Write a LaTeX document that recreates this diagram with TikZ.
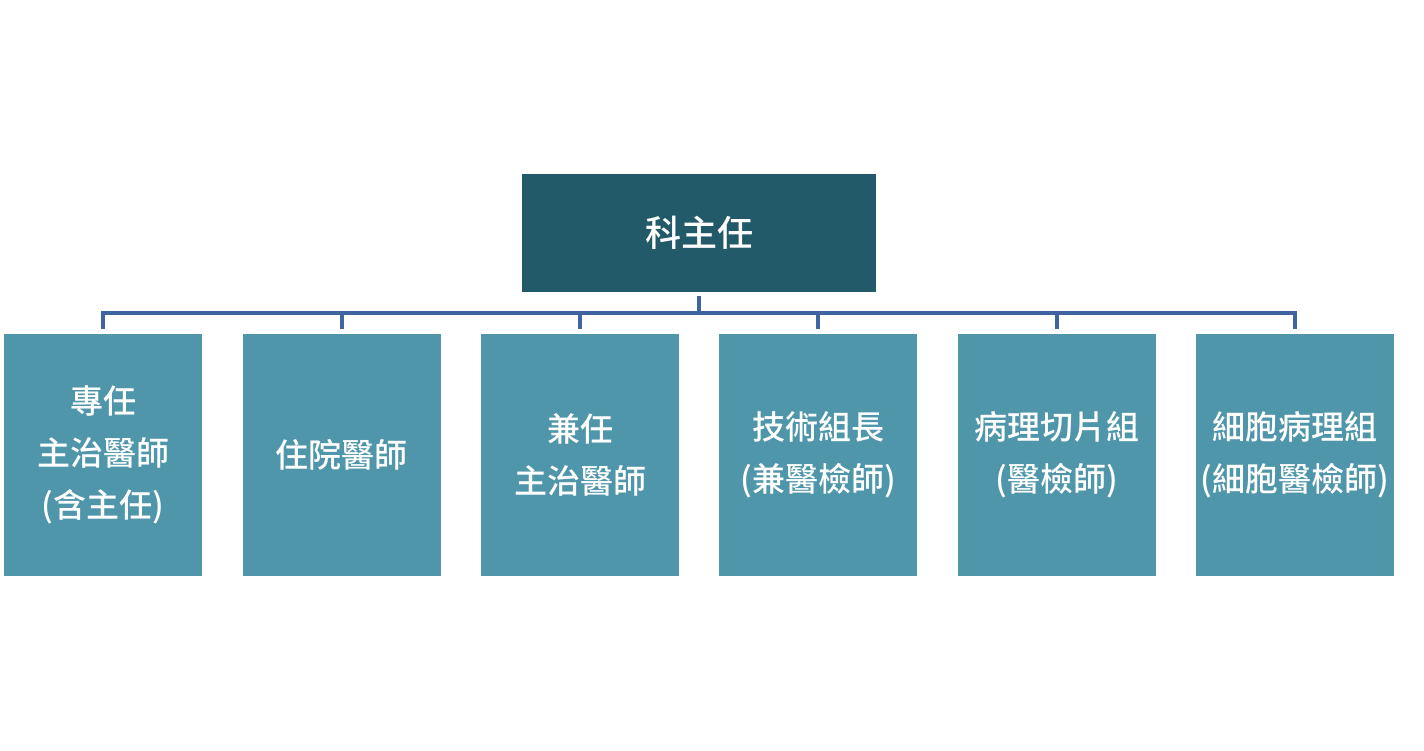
\documentclass[tikz,border=0pt]{standalone}
\usepackage{fontspec}
\newfontfamily\cjk{Noto Sans CJK TC Medium}
\definecolor{topc}{HTML}{225A69}
\definecolor{childc}{HTML}{4F96AB}
\definecolor{linec}{HTML}{3F65A0}
\begin{document}
\begin{tikzpicture}[x=1pt,y=-1pt,
  topbox/.style={fill=topc, minimum width=354pt, minimum height=118pt, inner sep=0pt, text=white, font=\cjk\fontsize{36}{40}\selectfont},
  childbox/.style={fill=childc, minimum width=198pt, minimum height=242pt, inner sep=0pt, text=white, align=center, font=\cjk\fontsize{33}{52}\selectfont},
  conn/.style={draw=linec, line width=4pt, line join=miter}]
\useasboundingbox (0,0) rectangle (1424,750);
\node[topbox] (top) at (699,233) {科主任};
\node[childbox] (c1) at (103,455) {專任\\主治醫師\\(含主任)};
\node[childbox] (c2) at (341.5,455) {住院醫師};
\node[childbox] (c3) at (580,455) {兼任\\主治醫師};
\node[childbox] (c4) at (818,455) {技術組長\\(兼醫檢師)};
\node[childbox] (c5) at (1056.5,455) {病理切片組\\(醫檢師)};
\node[childbox] (c6) at (1295,455) {細胞病理組\\(細胞醫檢師)};
\coordinate (bar) at (0,313);
\draw[conn] ([yshift=-4pt]top.south) -- (top.south |- bar);
\draw[conn] ([yshift=5pt]c1.north) -- (c1.north |- bar) -- (c6.north |- bar) -- ([yshift=5pt]c6.north);
\foreach \n in {c2,c3,c4,c5}
  \draw[conn] ([yshift=5pt]\n.north) -- (\n.north |- bar);
\end{tikzpicture}
\end{document}
